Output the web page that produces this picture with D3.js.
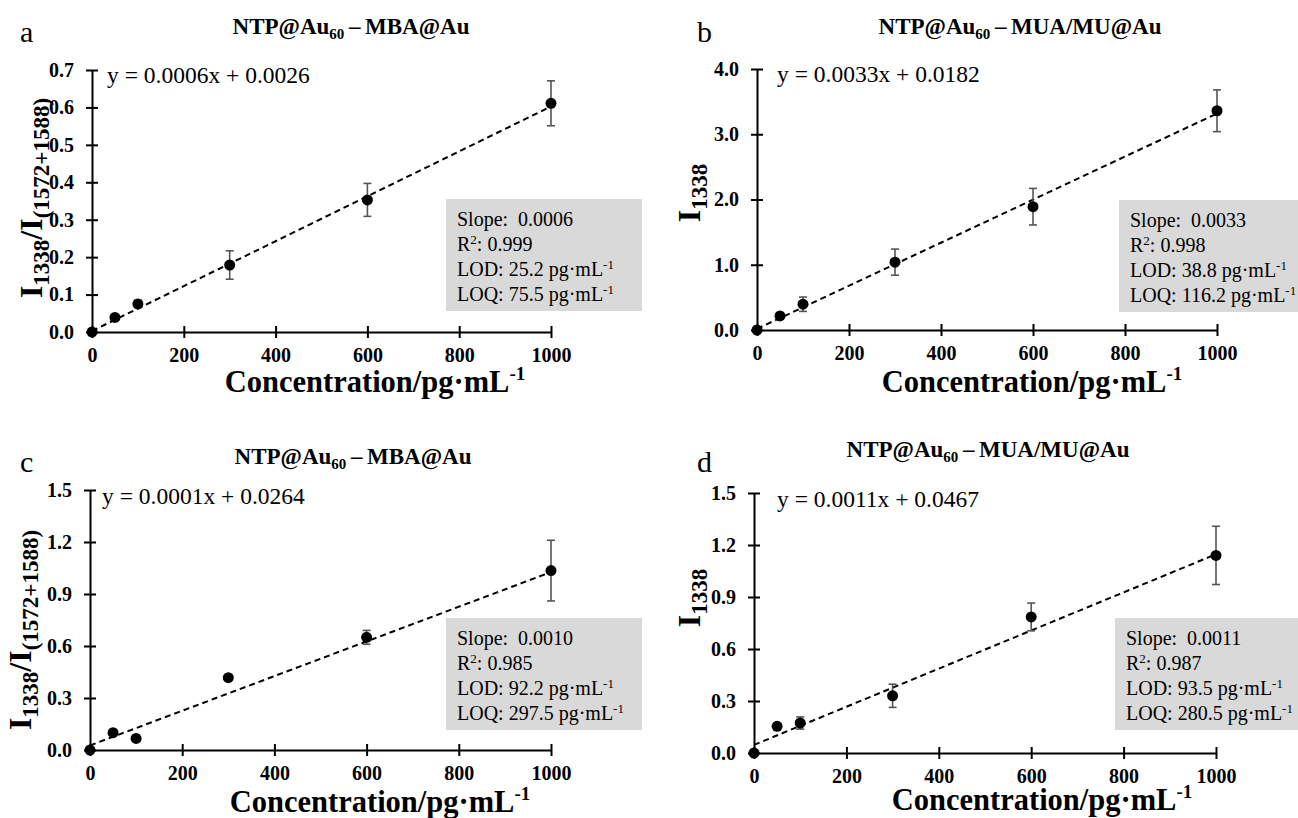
<!DOCTYPE html>
<html>
<head>
  <style>
    body { margin: 0; background: #fff; }
    svg text { font-family: "Liberation Serif", "Times New Roman", serif; fill: #000; }
  </style>
</head>
<body>
<svg id="chart" width="1298" height="818"></svg>
<script src="https://d3js.org/d3.v7.min.js"></script>
<script>
// concentration levels, pg/mL
const conc = [0, 50, 100, 300, 600, 1000];
const xTicks = [0, 200, 400, 600, 800, 1000];

// panel a..d: mean signal and error
const meanA = [0, 0.039, 0.075, 0.179, 0.353, 0.611];
const errA  = [0, 0.005, 0.010, 0.038, 0.044, 0.060];
const meanB = [0, 0.215, 0.395, 1.04, 1.89, 3.36];
const errB  = [0, 0.05, 0.11, 0.20, 0.28, 0.32];
const meanC = [0, 0.100, 0.067, 0.417, 0.650, 1.035];
const errC  = [0, 0.008, 0.008, 0.008, 0.040, 0.175];
const meanD = [0, 0.154, 0.173, 0.330, 0.785, 1.140];
const errD  = [0, 0.018, 0.035, 0.067, 0.080, 0.168];

// fitted line used for the dashed trend
const fitSlope = [0.0006, 0.0033, 0.0010, 0.0011];
const fitIntercept = [0.0026, 0.0182, 0.0264, 0.0467];

const letters = ["a", "b", "c", "d"];
const probes = ["MBA@Au", "MUA/MU@Au", "MBA@Au", "MUA/MU@Au"];
const ratioAxis = [true, false, true, false];
const yMax = [0.7, 4.0, 1.5, 1.5];
const yStep = [0.1, 1.0, 0.3, 0.3];
const equations = ["y = 0.0006x + 0.0026", "y = 0.0033x + 0.0182", "y = 0.0001x + 0.0264", "y = 0.0011x + 0.0467"];
const slopeText = ["0.0006", "0.0033", "0.0010", "0.0011"];
const r2Text = ["0.999", "0.998", "0.985", "0.987"];
const lodText = ["25.2", "38.8", "92.2", "93.5"];
const loqText = ["75.5", "116.2", "297.5", "280.5"];

const means = [meanA, meanB, meanC, meanD];
const errs = [errA, errB, errC, errD];

// where each panel sits on the page
const layout = [
  {x0: 92, x1: 551, y0: 332, y1: 70, letter: [20, 42], title: [351, 34], eq: [107, 83], box: [446, 199],
   yTitle: [42, 198], xTitle: [375, 392]},
  {x0: 757, x1: 1217, y0: 330, y1: 69, letter: [697, 42], title: [1020, 34], eq: [777, 82], box: [1119, 200],
   yTitle: [700, 193], xTitle: [1032, 392]},
  {x0: 90, x1: 551, y0: 750, y1: 490, letter: [20, 472], title: [353, 464], eq: [102, 504], box: [446, 618],
   yTitle: [31, 630], xTitle: [380, 812]},
  {x0: 754, x1: 1216, y0: 753, y1: 493, letter: [697, 472], title: [988, 457], eq: [777, 507], box: [1115, 618],
   yTitle: [700, 598], xTitle: [1042, 810]}
];

const svg = d3.select("#chart");

layout.forEach((L, i) => {
  const g = svg.append("g");
  const x = d3.scaleLinear().domain([0, 1000]).range([L.x0, L.x1]);
  const y = d3.scaleLinear().domain([0, yMax[i]]).range([L.y0, L.y1]);
  const yTicks = d3.range(0, yMax[i] + yStep[i] / 2, yStep[i]);

  // panel letter
  g.append("text").attr("x", L.letter[0]).attr("y", L.letter[1])
    .style("font-size", "30px").text(letters[i]);

  // title
  const t = g.append("text").attr("x", L.title[0]).attr("y", L.title[1])
    .attr("text-anchor", "middle").style("font-size", "23px").style("font-weight", "bold");
  t.append("tspan").text("NTP@Au");
  t.append("tspan").attr("dy", 5).style("font-size", "15px").text("60");
  t.append("tspan").attr("dy", -5).text("\u2009\u2013\u2009" + probes[i]);

  // axes
  const xAxis = g.append("g").attr("transform", `translate(0,${L.y0})`)
    .call(d3.axisBottom(x).tickValues(xTicks).tickFormat(d3.format("d")).tickSizeOuter(0).tickPadding(10));
  const yAxis = g.append("g").attr("transform", `translate(${L.x0},0)`)
    .call(d3.axisLeft(y).tickValues(yTicks).tickFormat(d3.format(".1f")).tickSizeOuter(0).tickPadding(12));
  xAxis.selectAll(".tick line").attr("y1", -6).attr("y2", 6);
  yAxis.selectAll(".tick line").attr("x1", -6).attr("x2", 6);
  [xAxis, yAxis].forEach(a => {
    a.select(".domain").attr("stroke", "#000").attr("stroke-width", 2);
    a.selectAll(".tick line").attr("stroke", "#000").attr("stroke-width", 2);
    a.selectAll(".tick text").style("font-family", "Liberation Serif").style("font-size", "20px")
      .style("font-weight", "bold").attr("fill", "#000");
  });

  // fitted dashed line
  g.append("line")
    .attr("x1", x(0)).attr("y1", y(fitIntercept[i]))
    .attr("x2", x(1000)).attr("y2", y(fitIntercept[i] + fitSlope[i] * 1000))
    .attr("stroke", "#000").attr("stroke-width", 2).attr("stroke-dasharray", "6,4");

  // error bars
  const pts = conc.map((c, k) => ({c, m: means[i][k], e: errs[i][k]}));
  const eb = g.selectAll(".eb").data(pts.filter(d => d.e > 0)).join("g").attr("stroke", "#555").attr("stroke-width", 1.6);
  eb.append("line").attr("x1", d => x(d.c)).attr("x2", d => x(d.c))
    .attr("y1", d => y(d.m - d.e)).attr("y2", d => y(d.m + d.e));
  eb.append("line").attr("x1", d => x(d.c) - 4).attr("x2", d => x(d.c) + 4)
    .attr("y1", d => y(d.m - d.e)).attr("y2", d => y(d.m - d.e));
  eb.append("line").attr("x1", d => x(d.c) - 4).attr("x2", d => x(d.c) + 4)
    .attr("y1", d => y(d.m + d.e)).attr("y2", d => y(d.m + d.e));

  // points
  g.selectAll(".pt").data(pts).join("circle")
    .attr("cx", d => x(d.c)).attr("cy", d => y(d.m)).attr("r", 5.5).attr("fill", "#000");

  // regression equation
  g.append("text").attr("x", L.eq[0]).attr("y", L.eq[1]).style("font-size", "23.5px")
    .style("white-space", "pre").text(equations[i]);

  // stats box
  const bx = L.box[0], by = L.box[1];
  g.append("rect").attr("x", bx).attr("y", by).attr("width", 196).attr("height", 112).attr("fill", "#d9d9d9");
  const lines = g.append("g").style("font-size", "20px");
  lines.append("text").attr("x", bx + 11).attr("y", by + 27).style("white-space", "pre").text("Slope:  " + slopeText[i]);
  const r2 = lines.append("text").attr("x", bx + 11).attr("y", by + 52);
  r2.append("tspan").text("R");
  r2.append("tspan").attr("dy", -7).style("font-size", "13px").text("2");
  r2.append("tspan").attr("dy", 7).text(": " + r2Text[i]);
  [["LOD: ", lodText[i], 77], ["LOQ: ", loqText[i], 102]].forEach(([lab, v, off]) => {
    const tx = lines.append("text").attr("x", bx + 11).attr("y", by + off);
    tx.append("tspan").text(lab + v + " pg\u00b7mL");
    tx.append("tspan").attr("dy", -7).style("font-size", "13px").text("-1");
  });

  // y axis title (rotated)
  const yt = g.append("text")
    .attr("transform", `translate(${L.yTitle[0]},${L.yTitle[1]}) rotate(-90)`)
    .attr("text-anchor", "middle").style("font-weight", "bold").style("font-size", "32px");
  yt.append("tspan").text("I");
  yt.append("tspan").attr("dy", 7).style("font-size", "23px").text("1338");
  if (ratioAxis[i]) {
    yt.append("tspan").attr("dy", -7).text("/I");
    yt.append("tspan").attr("dy", 7).style("font-size", "23px").text("(1572+1588)");
  }

  // x axis title
  const xt = g.append("text").attr("x", L.xTitle[0]).attr("y", L.xTitle[1])
    .attr("text-anchor", "middle").style("font-weight", "bold").style("font-size", "30.5px");
  xt.append("tspan").text("Concentration/pg\u00b7mL");
  xt.append("tspan").attr("dy", -12).style("font-size", "19px").text("-1");
});
</script>
</body>
</html>
